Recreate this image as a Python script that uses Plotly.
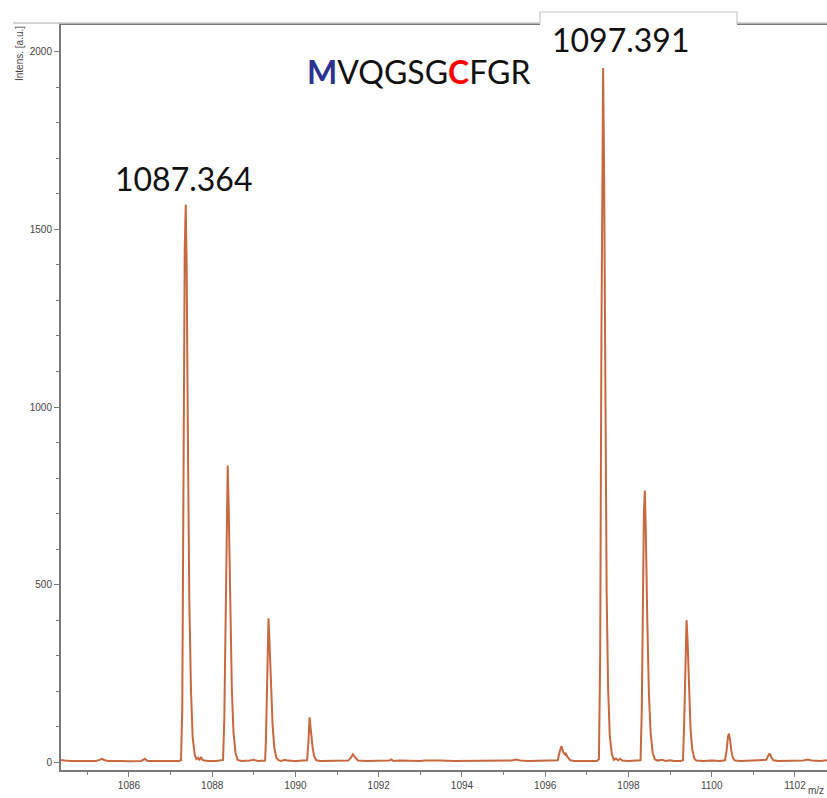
import plotly.graph_objects as go

# m/z and intensity points
mz = [1084.37, 1084.45, 1084.6, 1084.8, 1085.0, 1085.2, 1085.3, 1085.35, 1085.42, 1085.5, 1085.8, 1086.0, 1086.3, 1086.38, 1086.45, 1086.8, 1087.0, 1087.2,
      1087.25, 1087.28, 1087.31, 1087.34, 1087.364, 1087.385, 1087.42, 1087.45, 1087.49, 1087.53, 1087.58, 1087.62, 1087.66, 1087.69, 1087.73, 1087.77, 1087.81, 1087.9, 1088.1, 1088.2,
      1088.26, 1088.29, 1088.32, 1088.35, 1088.372, 1088.395, 1088.43, 1088.47, 1088.51, 1088.56, 1088.61, 1088.7, 1088.9, 1089.0, 1089.1, 1089.24,
      1089.27, 1089.29, 1089.315, 1089.335, 1089.352, 1089.375, 1089.41, 1089.45, 1089.49, 1089.54, 1089.59, 1089.65, 1089.75, 1089.8, 1090.0, 1090.2,
      1090.28, 1090.31, 1090.34, 1090.36, 1090.38, 1090.41, 1090.45, 1090.5, 1090.6, 1090.8, 1091.0, 1091.2,
      1091.27, 1091.33, 1091.38, 1091.43, 1091.5, 1091.7, 1092.0, 1092.1, 1092.15, 1092.25, 1092.3, 1092.35, 1092.5, 1092.7, 1093.0, 1093.1, 1093.3, 1093.5, 1093.8, 1094.0, 1094.3, 1094.6, 1094.9, 1095.2, 1095.3, 1095.4, 1095.6, 1095.9, 1096.2,
      1096.3, 1096.35, 1096.39, 1096.43, 1096.47, 1096.49, 1096.53, 1096.6, 1096.7, 1096.9, 1097.1, 1097.24,
      1097.29, 1097.32, 1097.35, 1097.37, 1097.391, 1097.415, 1097.445, 1097.475, 1097.51, 1097.55, 1097.6, 1097.65, 1097.7, 1097.75, 1097.8, 1097.85, 1098.0, 1098.2,
      1098.29, 1098.32, 1098.35, 1098.37, 1098.392, 1098.415, 1098.45, 1098.49, 1098.53, 1098.58, 1098.63, 1098.7, 1098.8, 1098.9, 1099.0, 1099.1, 1099.25,
      1099.31, 1099.34, 1099.37, 1099.395, 1099.42, 1099.45, 1099.49, 1099.53, 1099.58, 1099.63, 1099.8, 1100.0, 1100.2,
      1100.32, 1100.36, 1100.39, 1100.415, 1100.44, 1100.47, 1100.51, 1100.56, 1100.7, 1100.9, 1101.1, 1101.25,
      1101.31, 1101.35, 1101.39, 1101.43, 1101.48, 1101.6, 1101.8, 1102.0, 1102.2, 1102.3, 1102.4, 1102.6, 1102.77]
intensity = [6, 4, 3, 3, 2, 3, 6, 9, 5, 3, 3, 2, 3, 9, 3, 2, 3, 3,
             5, 150, 800, 1450, 1570, 1400, 850, 450, 200, 70, 20, 8, 12, 5, 14, 6, 4, 3, 3, 4,
             6, 120, 450, 790, 835, 720, 440, 210, 85, 25, 6, 3, 4, 6, 3, 3,
             4, 60, 220, 370, 405, 340, 210, 105, 42, 12, 5, 3, 6, 4, 3, 3,
             5, 55, 126, 100, 70, 42, 16, 5, 3, 3, 4, 3,
             4, 12, 22, 14, 4, 3, 3, 5, 3, 4, 7, 3, 4, 3, 3, 4, 3, 4, 3, 3, 4, 3, 3, 4, 7, 4, 3, 3, 3,
             5, 30, 45, 28, 22, 26, 15, 5, 3, 3, 4, 3,
             8, 300, 1200, 1800, 1955, 1650, 950, 480, 210, 75, 22, 6, 10, 5, 9, 4, 3, 3,
             5, 150, 500, 700, 765, 660, 410, 195, 85, 27, 8, 4, 6, 3, 5, 3, 3,
             5, 120, 330, 400, 340, 205, 95, 37, 10, 4, 3, 4, 3,
             5, 35, 72, 80, 62, 32, 11, 4, 3, 4, 3, 4,
             6, 16, 24, 14, 5, 3, 4, 3, 4, 7, 4, 3, 5]

peak_labels = ["1087.364", "1097.391"]
peak_label_pos = [(1087.32, 1644), (1097.82, 2036)]
sequence_html = ("<b><span style='color:#2e3192'>M</span></b>VQGSG"
                 "<b><span style='color:#ff0000'>C</span></b>FGR")
sequence_pos = (1092.97, 1946)

W, H = 827, 798
L, R, T, B = 61, 0, 25, 28
pw, ph = W - L - R, H - T - B

def px(x):
    return (x - L) / pw

def py(y):
    return (H - B - y) / ph

fig = go.Figure()
fig.add_trace(go.Scatter(x=mz, y=intensity, mode="lines",
                         line=dict(color="#c8683f", width=2), hoverinfo="skip"))

axis_font = dict(family="Liberation Sans, Arial", size=10, color="#444444")
fig.update_layout(
    width=W, height=H, margin=dict(l=L, r=R, t=T, b=B),
    paper_bgcolor="white", plot_bgcolor="white", showlegend=False,
    xaxis=dict(range=[1084.367, 1102.769], tick0=1086, dtick=2, showgrid=False, zeroline=False,
               showline=True, linecolor="#7a7a7a", linewidth=2, mirror=True,
               ticks="outside", ticklen=5, tickwidth=1, tickcolor="#7a7a7a", tickfont=axis_font,
               minor=dict(tick0=1085, dtick=1, ticks="outside", ticklen=3, tickcolor="#7a7a7a")),
    yaxis=dict(range=[-22.5, 2076], tick0=0, dtick=500, showgrid=False, zeroline=False,
               showline=True, linecolor="#7a7a7a", linewidth=2,
               ticks="outside", ticklen=5, tickwidth=1, tickcolor="#7a7a7a", tickfont=axis_font,
               minor=dict(dtick=100, ticks="outside", ticklen=3, tickcolor="#7a7a7a")),
)

shapes = [
    dict(type="line", xref="paper", yref="paper", x0=px(13), x1=px(827), y0=py(23), y1=py(23),
         line=dict(color="#c8c8c8", width=1.5), layer="above"),
    dict(type="rect", xref="paper", yref="paper", x0=px(540), x1=px(737), y0=py(55), y1=py(12),
         fillcolor="white", line=dict(width=0), layer="above"),
    dict(type="path", xref="paper", yref="paper",
         path=f"M {px(540)},{py(24)} L {px(540)},{py(12)} L {px(737)},{py(12)} L {px(737)},{py(24)}",
         line=dict(color="#c8c8c8", width=1.2), layer="above"),
]
fig.update_layout(shapes=shapes)

big_font = dict(family="Lato, Open Sans, sans-serif", size=32, color="#111111")
for txt, (x, y) in zip(peak_labels, peak_label_pos):
    fig.add_annotation(x=x, y=y, xref="x", yref="y", text=txt, showarrow=False,
                       font=big_font, xanchor="center", yanchor="middle")
fig.add_annotation(x=sequence_pos[0], y=sequence_pos[1], xref="x", yref="y", text=sequence_html,
                   showarrow=False, font=dict(family="Lato, Open Sans, sans-serif", size=32, color="#111111"),
                   xanchor="center", yanchor="middle")
fig.add_annotation(x=px(20), y=py(54), xref="paper", yref="paper", text="Intens. [a.u.]",
                   textangle=-90, showarrow=False, xanchor="center", yanchor="middle",
                   font=dict(family="Liberation Sans, Arial", size=10, color="#444444"))
fig.add_annotation(x=px(826), y=py(790), xref="paper", yref="paper", text="m/z",
                   showarrow=False, xanchor="right", yanchor="middle",
                   font=dict(family="Liberation Sans, Arial", size=10, color="#444444"))

fig.write_html("out.html")
